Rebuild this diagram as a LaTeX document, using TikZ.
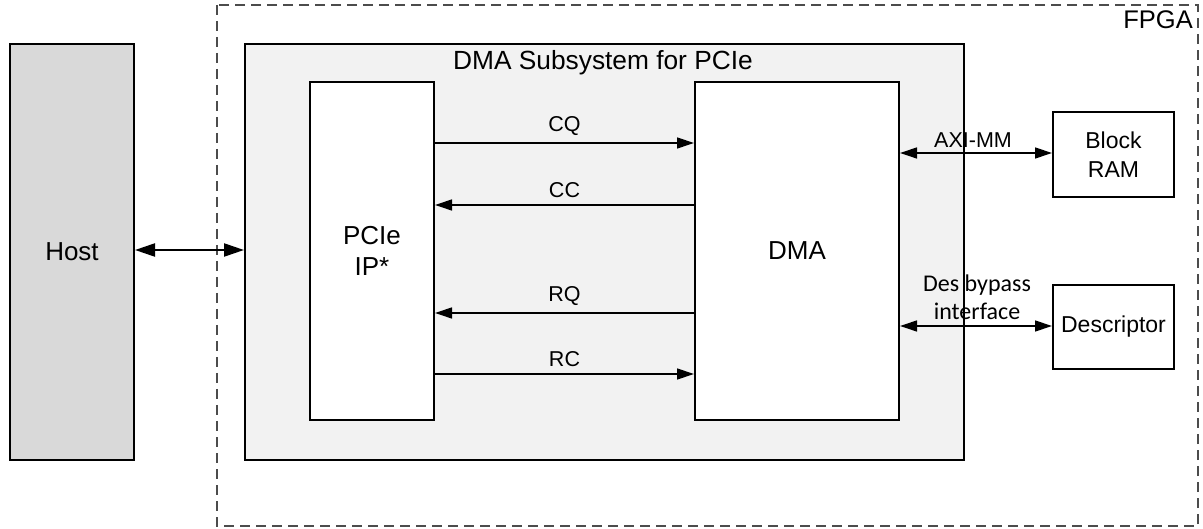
\documentclass[tikz,border=0pt]{standalone}
\usepackage{fontspec}
\setmainfont{Liberation Sans}
\newfontfamily\calib{Carlito}
\usetikzlibrary{arrows.meta}
\begin{document}
\begin{tikzpicture}[x=1pt,y=-1pt,
  blk/.style={draw=black, line width=2pt, inner sep=0pt, anchor=north west, font=\fontsize{26}{31}\selectfont, align=center},
  smallblk/.style={blk, font=\fontsize{23}{29}\selectfont},
  sarr/.style={line width=1.3pt, -{Triangle[length=17pt,width=11pt]}},
  darr/.style={line width=1.3pt, {Triangle[length=17pt,width=11pt]}-{Triangle[length=17pt,width=11pt]}},
  harr/.style={line width=2.2pt, {Triangle[length=20pt,width=13pt]}-{Triangle[length=20pt,width=13pt]}},
  lbl/.style={font=\fontsize{21.5}{24}\selectfont, inner sep=0pt}
]
\useasboundingbox (0,0) rectangle (1203,529);
% FPGA boundary
\draw[line width=1.3pt, draw=black!70, dash pattern=on 10pt off 6pt] (217,5) rectangle (1198,526);
\node[lbl, anchor=north east, font=\fontsize{25.5}{28}\selectfont] (fpga) at (1193,10) {FPGA};
% Host
\node[blk, fill=black!15, minimum width=124pt, minimum height=416pt] (host) at (9,43) {Host};
% Subsystem
\node[blk, fill=black!5, minimum width=719pt, minimum height=416pt] (sub) at (244,43) {};
\node[lbl, font=\fontsize{26.3}{30}\selectfont] (subt) at (603,63) {DMA Subsystem for PCIe};
% PCIe IP and DMA
\node[blk, fill=white, minimum width=124pt, minimum height=338pt] (pcie) at (309,81) {PCIe\\IP*};
\node[blk, fill=white, minimum width=204pt, minimum height=338pt] (dma) at (694,81) {DMA};
% Block RAM and Descriptor
\node[smallblk, fill=white, minimum width=121pt, minimum height=85pt] (bram) at (1052,111) {Block\\RAM};
\node[smallblk, fill=white, minimum width=121pt, minimum height=84pt] (desc) at (1052,284) {Descriptor};
% Host arrow
\draw[harr] (host.east |- 0,250) -- (sub.west |- 0,250);
% Inner arrows
\draw[sarr] (pcie.east |- 0,143) -- node[lbl, midway, above=7pt] (cq) {CQ} (dma.west |- 0,143);
\draw[sarr] (dma.west |- 0,205) -- node[lbl, midway, above=7pt] (cc) {CC} (pcie.east |- 0,205);
\draw[sarr] (dma.west |- 0,313) -- node[lbl, midway, above=7pt] (rq) {RQ} (pcie.east |- 0,313);
\draw[sarr] (pcie.east |- 0,374) -- node[lbl, midway, above=7pt] (rc) {RC} (dma.west |- 0,374);
% Right side arrows
\draw[darr] (dma.east |- 0,153) -- (bram.west |- 0,153);
\node[lbl] (axi) at (973,140) {AXI-MM};
\draw[darr] (dma.east |- 0,326) -- (desc.west |- 0,326);
\node[lbl, font=\calib\fontsize{24}{28}\selectfont, align=center] (desl) at (977,297) {Des bypass\\interface};
\end{tikzpicture}
\end{document}
